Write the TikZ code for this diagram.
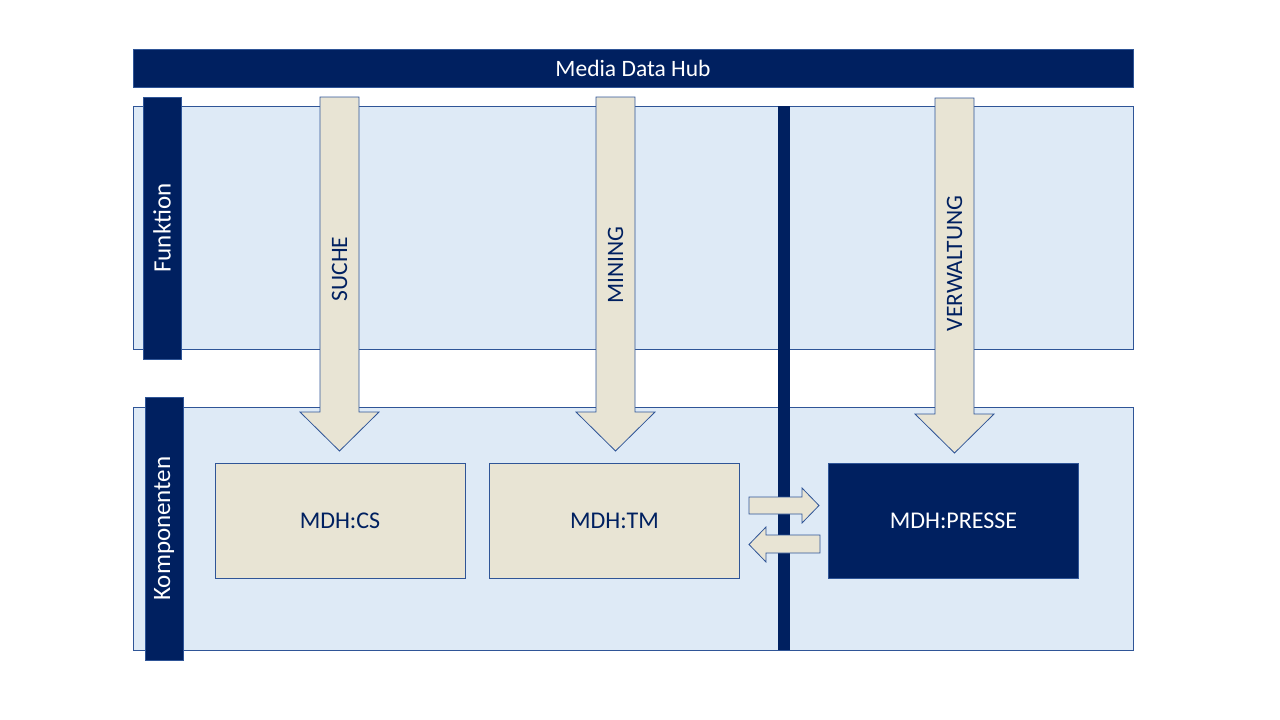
\documentclass[tikz,border=0pt]{standalone}
\usepackage{fontspec}
\setmainfont{Carlito}
\usetikzlibrary{positioning}

\definecolor{mdhnavy}{RGB}{0,32,96}
\definecolor{mdhpanel}{RGB}{222,234,246}
\definecolor{mdhline}{RGB}{47,85,151}
\definecolor{mdhbeige}{RGB}{232,228,212}

\tikzset{
    panel/.style={draw=mdhline, fill=mdhpanel, line width=0.8pt},
    labelbar/.style={draw=mdhline, fill=mdhnavy, line width=0.8pt,
        inner sep=0pt, minimum width=38pt},
    blockarrow/.style={draw=mdhline, fill=mdhbeige, line width=0.8pt,
        line join=miter},
    arrowtext/.style={text=mdhnavy, font=\fontsize{23.5}{28}\selectfont,
        inner sep=0pt, rotate=90},
    compbox/.style={draw=mdhline, fill=mdhbeige, line width=0.8pt,
        minimum width=250pt, minimum height=115pt, inner sep=0pt,
        text=mdhnavy, font=\fontsize{24}{28}\selectfont},
}

% down block arrow: centre x, top y, tip y
\newcommand{\blockdown}[3]{%
    \draw[blockarrow] (#1-19.5,#2) -- (#1+19.5,#2) -- (#1+19.5,#3-39)
        -- (#1+39.5,#3-39) -- (#1,#3) -- (#1-39.5,#3-39)
        -- (#1-19.5,#3-39) -- cycle;}

\begin{document}
\begin{tikzpicture}[x=1pt, y=-1pt]
\useasboundingbox (0,0) rectangle (1280,720);

% =============================================================================
% Header
% =============================================================================
\node[draw=mdhline, fill=mdhnavy, minimum width=1000pt, minimum height=38pt,
      inner sep=0pt, text=white, font=\fontsize{23.5}{28}\selectfont]
    (hub) at (633,68) {Media Data Hub};

% =============================================================================
% Panels
% =============================================================================
\draw[panel] (133,106) rectangle (1133,349);
\draw[panel] (133,407) rectangle (1133,650);

% divider between the parts
\fill[mdhnavy] (778,106) rectangle (790,650);

% side labels
\node[labelbar, minimum height=262pt] (funktion) at (162,228) {};
\node[text=white, rotate=90, font=\fontsize{25}{30}\selectfont]
    at (funktion) {Funktion};
\node[labelbar, minimum height=263pt] (komponenten) at (164,528.5) {};
\node[text=white, rotate=90, font=\fontsize{25}{30}\selectfont]
    at (komponenten) {Komponenten};

% =============================================================================
% Function arrows
% =============================================================================
\blockdown{339.5}{97}{451}
\node[arrowtext] (suche) at (339.5,269) {SUCHE};

\blockdown{615.5}{97}{451}
\node[arrowtext] (mining) at (615.5,265) {MINING};

\blockdown{954.5}{98}{453}
\node[arrowtext] (verwaltung) at (954.5,263.5) {VERWALTUNG};

% =============================================================================
% Components
% =============================================================================
\node[compbox] (cs) at (340,520.5) {MDH:CS};
\node[compbox] (tm) at (614.5,520.5) {MDH:TM};
\node[compbox, fill=mdhnavy, text=white] (presse) at (953.5,520.5) {MDH:PRESSE};

% exchange arrows between TM and PRESSE
\draw[blockarrow] (749,497) -- (802,497) -- (802,488) -- (819,505.5)
    -- (802,523) -- (802,514) -- (749,514) -- cycle;
\draw[blockarrow] (820,535) -- (766,535) -- (766,527) -- (749,544.5)
    -- (766,562) -- (766,553) -- (820,553) -- cycle;

\end{tikzpicture}
\end{document}
